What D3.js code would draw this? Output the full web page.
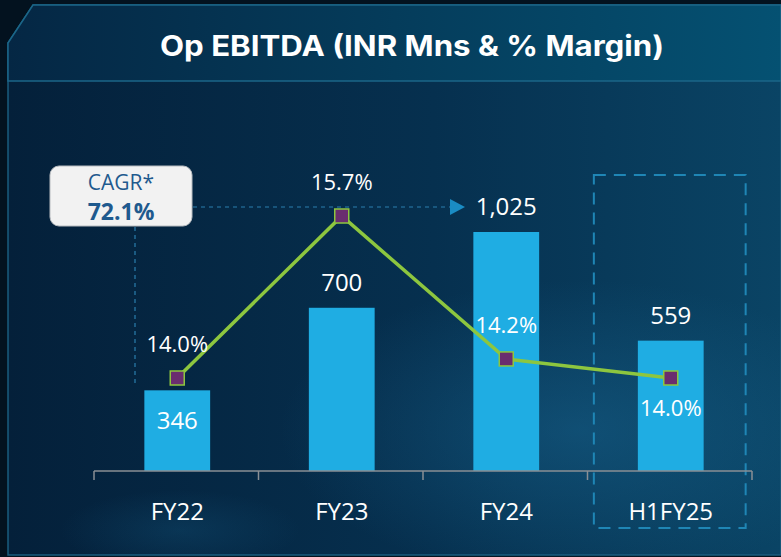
<!DOCTYPE html>
<html>
<head>
<meta charset="utf-8">
<script src="https://cdn.jsdelivr.net/npm/d3@7"></script>
<style>
  body { margin: 0; background: #03121f; }
  svg { display: block; }
</style>
</head>
<body>
<script>
const svgWidth = 781
const svgHeight = 557

// chart data
const categories = ["FY22", "FY23", "FY24", "H1FY25"]
const ebitda = [346, 700, 1025, 559]
const ebitdaLabels = ["346", "700", "1,025", "559"]
const margin = [14.0, 15.7, 14.2, 14.0]
const marginLabels = ["14.0%", "15.7%", "14.2%", "14.0%"]
const cagrLabel = "CAGR*"
const cagrValue = "72.1%"
const title = "Op EBITDA (INR Mns & % Margin)"

const plot = { left: 94, right: 752, baseline: 471 }

const svg = d3.select("body").append("svg")
    .attr("width", svgWidth)
    .attr("height", svgHeight)

const defs = svg.append("defs")

const panelGrad = defs.append("linearGradient").attr("id", "panelGrad")
panelGrad.append("stop").attr("offset", "0%").attr("stop-color", "#04203a")
panelGrad.append("stop").attr("offset", "55%").attr("stop-color", "#06304f")
panelGrad.append("stop").attr("offset", "100%").attr("stop-color", "#0a4465")

const titleGrad = defs.append("linearGradient").attr("id", "titleGrad")
titleGrad.append("stop").attr("offset", "0%").attr("stop-color", "#052744")
titleGrad.append("stop").attr("offset", "100%").attr("stop-color", "#055172")

const glow = defs.append("radialGradient").attr("id", "glow")
    .attr("cx", "0.5").attr("cy", "0.5").attr("r", "0.5")
glow.append("stop").attr("offset", "0%").attr("stop-color", "#1a6a96").attr("stop-opacity", 0.45)
glow.append("stop").attr("offset", "100%").attr("stop-color", "#1a6a96").attr("stop-opacity", 0)

// background panel
svg.append("rect")
    .attr("width", svgWidth).attr("height", svgHeight)
    .attr("fill", "#03121f")

svg.append("path")
    .attr("d", "M8,43 L33,5 L781,5 L781,555 L8,555 Z")
    .attr("fill", "url(#panelGrad)")
    .attr("stroke", "#1a5c7d")
    .attr("stroke-width", 1.5)

svg.append("ellipse")
    .attr("cx", 580).attr("cy", 430).attr("rx", 300).attr("ry", 150)
    .attr("fill", "url(#glow)")
svg.append("ellipse")
    .attr("cx", 180).attr("cy", 530).attr("rx", 120).attr("ry", 40)
    .attr("fill", "url(#glow)")
    .attr("opacity", 0.5)

svg.append("path")
    .attr("d", "M8,43 L33,5 L781,5 L781,81 L8,81 Z")
    .attr("fill", "url(#titleGrad)")
    .attr("stroke", "#1b6688")
    .attr("stroke-width", 1.5)

svg.append("text")
    .attr("x", 412).attr("y", 56)
    .attr("text-anchor", "middle")
    .attr("fill", "#ffffff")
    .attr("font-family", "Inter, 'Open Sans', sans-serif")
    .attr("font-weight", 700)
    .attr("font-size", 28)
    .attr("textLength", 504)
    .attr("lengthAdjust", "spacingAndGlyphs")
    .text(title)

// scales
const x = d3.scaleBand()
    .domain(categories)
    .range([plot.left, plot.right])
    .paddingInner(0.6)
    .paddingOuter(0.3)

const xTicks = d3.scalePoint()
    .domain(d3.range(categories.length + 1))
    .range([plot.left, plot.right])

const y = d3.scaleLinear()
    .domain([0, 1025])
    .range([plot.baseline, 232])

const yMargin = d3.scaleLinear()
    .domain([14.0, 15.7])
    .range([378, 216])

const cx = d => x(d) + x.bandwidth() / 2 + 1

const labelFont = "'Segoe UI', 'Open Sans', 'Noto Sans', sans-serif"

// H1FY25 dashed highlight box
svg.append("rect")
    .attr("x", x("H1FY25") - 43).attr("y", 175)
    .attr("width", x.bandwidth() + 86).attr("height", 353)
    .attr("fill", "none")
    .attr("stroke", "#1f86b5")
    .attr("stroke-width", 2)
    .attr("stroke-dasharray", "12,8")

// bars
svg.selectAll("rect.bar")
    .data(categories)
    .enter()
    .append("rect")
    .attr("class", "bar")
    .attr("x", d => x(d) + 1)
    .attr("y", (d, i) => y(ebitda[i]))
    .attr("width", x.bandwidth())
    .attr("height", (d, i) => y(0) - y(ebitda[i]))
    .attr("fill", "#1fade3")

// axis
const axis = svg.append("g")
axis.append("line")
    .attr("x1", plot.left).attr("x2", plot.right)
    .attr("y1", plot.baseline).attr("y2", plot.baseline)
    .attr("stroke", "#8a8f94").attr("stroke-width", 1.5)
axis.selectAll("line.tick")
    .data(xTicks.domain())
    .enter()
    .append("line")
    .attr("class", "tick")
    .attr("x1", d => xTicks(d)).attr("x2", d => xTicks(d))
    .attr("y1", plot.baseline).attr("y2", plot.baseline + 9)
    .attr("stroke", "#8a8f94").attr("stroke-width", 1.5)

axis.selectAll("text")
    .data(categories)
    .enter()
    .append("text")
    .attr("x", d => cx(d))
    .attr("y", 520)
    .attr("text-anchor", "middle")
    .attr("fill", "#ffffff")
    .attr("font-family", labelFont)
    .attr("font-size", 24)
    .text(d => d)

// CAGR dashed guides
svg.append("line")
    .attr("x1", 135).attr("x2", 135)
    .attr("y1", 227).attr("y2", 387)
    .attr("stroke", "#2a7fae").attr("stroke-width", 1.2)
    .attr("stroke-dasharray", "4,4")
svg.append("line")
    .attr("x1", 193).attr("x2", 450)
    .attr("y1", 207).attr("y2", 207)
    .attr("stroke", "#2a7fae").attr("stroke-width", 1.2)
    .attr("stroke-dasharray", "4,4")
svg.append("path")
    .attr("d", "M450,199 L465,207 L450,215 Z")
    .attr("fill", "#1a8cc4")

// CAGR box
svg.append("rect")
    .attr("x", 50).attr("y", 166)
    .attr("width", 142).attr("height", 60)
    .attr("rx", 9)
    .attr("fill", "#f2f2f2")
    .attr("stroke", "#b8bcc0")
svg.append("text")
    .attr("x", 121).attr("y", 190)
    .attr("text-anchor", "middle")
    .attr("fill", "#1f5a8e")
    .attr("font-family", labelFont)
    .attr("font-size", 21)
    .text(cagrLabel)
svg.append("text")
    .attr("x", 121).attr("y", 220)
    .attr("text-anchor", "middle")
    .attr("fill", "#1f5a8e")
    .attr("font-family", labelFont)
    .attr("font-weight", 700)
    .attr("font-size", 23)
    .text(cagrValue)

// bar value labels (FY22 inside the bar)
svg.selectAll("text.barLabel")
    .data(categories)
    .enter()
    .append("text")
    .attr("class", "barLabel")
    .attr("x", d => cx(d))
    .attr("y", (d, i) => i === 0 ? y(ebitda[i]) + 39 : y(ebitda[i]) - 17)
    .attr("text-anchor", "middle")
    .attr("fill", "#ffffff")
    .attr("font-family", labelFont)
    .attr("font-size", 24)
    .text((d, i) => ebitdaLabels[i])

// margin line
const line = d3.line()
    .x(d => cx(d))
    .y((d, i) => yMargin(margin[i]))

svg.append("path")
    .attr("d", line(categories))
    .attr("fill", "none")
    .attr("stroke", "#8dc63f")
    .attr("stroke-width", 3.5)

svg.selectAll("rect.marker")
    .data(categories)
    .enter()
    .append("rect")
    .attr("class", "marker")
    .attr("x", d => cx(d) - 7)
    .attr("y", (d, i) => yMargin(margin[i]) - 7)
    .attr("width", 14).attr("height", 14)
    .attr("fill", "#6a2d6f")
    .attr("stroke", "#8dc63f")
    .attr("stroke-width", 1.5)

// margin labels: above for the first three, below for H1FY25
svg.selectAll("text.marginLabel")
    .data(categories)
    .enter()
    .append("text")
    .attr("class", "marginLabel")
    .attr("x", d => cx(d))
    .attr("y", (d, i) => i === 3 ? yMargin(margin[i]) + 38 : yMargin(margin[i]) - 26)
    .attr("text-anchor", "middle")
    .attr("fill", "#ffffff")
    .attr("font-family", labelFont)
    .attr("font-size", 22)
    .text((d, i) => marginLabels[i])
</script>
</body>
</html>
